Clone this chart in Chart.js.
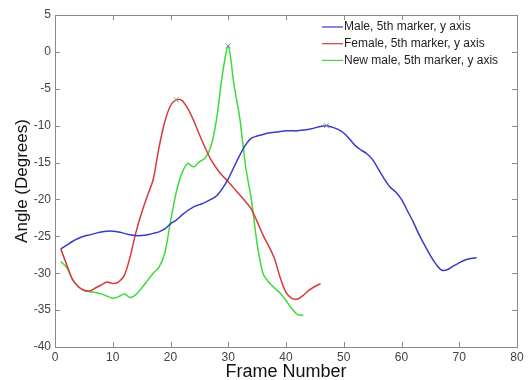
<!DOCTYPE html>
<html><head><meta charset="utf-8">
<script src="https://cdn.jsdelivr.net/npm/chart.js@4/dist/chart.umd.min.js"></script>
<style>html,body{margin:0;padding:0;background:#fff}#wrap{width:528px;height:380px}</style>
</head><body><div id="wrap"><canvas id="c" width="528" height="380"></canvas></div>
<script>
const maleFrames = [];
for (let i = 1; i <= 73; i++) maleFrames.push(i);
const maleValues = [-26.7,-26.2,-25.7,-25.3,-25.0,-24.8,-24.6,-24.4,-24.3,-24.3,
 -24.4,-24.6,-24.8,-24.9,-24.9,-24.8,-24.6,-24.4,-24.0,-23.3,
 -22.8,-22.1,-21.5,-21.0,-20.7,-20.4,-20.0,-19.5,-18.5,-17.2,
 -15.6,-14.0,-12.6,-11.7,-11.4,-11.2,-11.0,-10.9,-10.8,-10.7,
 -10.7,-10.7,-10.6,-10.5,-10.3,-10.1,-10.0,-10.2,-10.5,-11.0,
 -11.8,-12.7,-13.3,-13.8,-14.6,-15.9,-17.2,-18.3,-19.0,-20.0,
 -21.5,-23.0,-24.7,-26.2,-27.6,-28.8,-29.6,-29.5,-29.0,-28.6,
 -28.2,-28.0,-27.9];
const femaleFrames = [];
for (let i = 1; i <= 46; i++) femaleFrames.push(i);
const femaleValues = [-26.7,-28.8,-30.8,-31.8,-32.3,-32.4,-32.0,-31.6,-31.2,-31.4,
 -31.2,-30.3,-27.8,-24.5,-21.8,-19.5,-17.3,-13.0,-9.5,-7.3,
 -6.5,-6.6,-7.7,-9.3,-11.2,-13.0,-14.6,-15.8,-16.8,-17.6,
 -18.5,-19.4,-20.3,-21.3,-23.0,-24.8,-26.3,-28.0,-30.6,-32.6,
 -33.4,-33.5,-33.0,-32.3,-31.8,-31.4];
const newMaleFrames = [];
for (let i = 1; i <= 43; i++) newMaleFrames.push(i);
const newMaleValues = [-28.4,-29.2,-30.8,-31.8,-32.3,-32.5,-32.6,-32.8,-33.1,-33.4,
 -33.2,-32.8,-33.3,-32.9,-32.0,-31.0,-30.0,-29.2,-27.3,-23.0,
 -19.0,-16.4,-15.1,-15.6,-14.9,-14.4,-12.8,-9.0,-3.0,0.8,
 -4.5,-9.0,-15.5,-20.0,-26.0,-30.0,-31.2,-32.0,-32.7,-33.7,
 -34.8,-35.6,-35.7];
const seriesLabels = ['Male, 5th marker, y axis','Female, 5th marker, y axis','New male, 5th marker, y axis'];
const xTicks = [0,10,20,30,40,50,60,70,80];
const yTicks = [5,0,-5,-10,-15,-20,-25,-30,-35,-40];

function pts(f, v){ return f.map((x,i)=>({x:x,y:v[i]})); }
function peakRadius(v){ const m = v.indexOf(Math.max(...v)); return ctx => ctx.dataIndex === m ? 3.5 : 0; }
const colors = ['#3a3ac8','#d83a3a','#3ddc3a'];

const boxPlugin = {
  id:'box',
  afterDraw(chart){
    const c = chart.ctx, a = chart.chartArea, xs = chart.scales.x, ys = chart.scales.y;
    c.save();
    c.strokeStyle = '#8a8a8a'; c.lineWidth = 1;
    c.strokeRect(a.left+0.5, a.top+0.5, a.right-a.left, a.bottom-a.top);
    c.beginPath();
    xTicks.forEach(t=>{ const p = Math.round(xs.getPixelForValue(t))+0.5;
      c.moveTo(p,a.bottom); c.lineTo(p,a.bottom-5); c.moveTo(p,a.top); c.lineTo(p,a.top+5); });
    yTicks.forEach(t=>{ const p = Math.round(ys.getPixelForValue(t))+0.5;
      c.moveTo(a.left,p); c.lineTo(a.left+5,p); c.moveTo(a.right,p); c.lineTo(a.right-5,p); });
    c.stroke();
    // legend
    c.font = '12px Arial, "Liberation Sans", sans-serif';
    c.textBaseline = 'middle'; c.fillStyle = '#222';
    chart.data.datasets.forEach((d,i)=>{
      const y = 27 + i*16.7;
      c.strokeStyle = d.borderColor; c.lineWidth = 1.2;
      c.beginPath(); c.moveTo(322,y); c.lineTo(343,y); c.stroke();
      c.fillText(d.label, 344, y);
    });
    c.restore();
  }
};

new Chart(document.getElementById('c'), {
  type:'line',
  data:{ datasets:[
    {label:seriesLabels[0], data:pts(maleFrames,maleValues), borderColor:colors[0], borderWidth:1.5, pointRadius:peakRadius(maleValues), pointStyle:'crossRot', pointBorderColor:'#888', pointBorderWidth:1, tension:0.3},
    {label:seriesLabels[1], data:pts(femaleFrames,femaleValues), borderColor:colors[1], borderWidth:1.5, pointRadius:peakRadius(femaleValues), pointStyle:'crossRot', pointBorderColor:'#888', pointBorderWidth:1, tension:0.3},
    {label:seriesLabels[2], data:pts(newMaleFrames,newMaleValues), borderColor:colors[2], borderWidth:1.5, pointRadius:peakRadius(newMaleValues), pointStyle:'crossRot', pointBorderColor:'#888', pointBorderWidth:1, tension:0.3}
  ]},
  options:{
    responsive:false, animation:false, devicePixelRatio:1,
    layout:{padding:{top:15,right:11,left:0,bottom:0}},
    plugins:{legend:{display:false}, tooltip:{enabled:false}},
    scales:{
      x:{type:'linear', min:0, max:80,
        afterBuildTicks: s => { s.ticks = xTicks.map(v=>({value:v})); },
        afterFit: s => { s.height = 33; },
        grid:{display:false, drawTicks:false}, border:{display:false},
        ticks:{font:{size:12, family:'Arial'}, color:'#444', padding:3, maxRotation:0, autoSkip:false},
        title:{display:true, text:'Frame Number', font:{size:18, family:'Arial'}, color:'#111', padding:{top:0,bottom:-3}}
      },
      y:{type:'linear', min:-40, max:5,
        afterBuildTicks: s => { s.ticks = yTicks.map(v=>({value:v})); },
        afterFit: s => { s.width = 55; },
        grid:{display:false, drawTicks:false}, border:{display:false},
        ticks:{font:{size:12, family:'Arial'}, color:'#444', padding:4, autoSkip:false},
        title:{display:true, text:'Angle (Degrees)', font:{size:17, family:'Arial'}, color:'#111', padding:{top:12,bottom:0}}
      }
    }
  },
  plugins:[boxPlugin]
});
</script></body></html>
